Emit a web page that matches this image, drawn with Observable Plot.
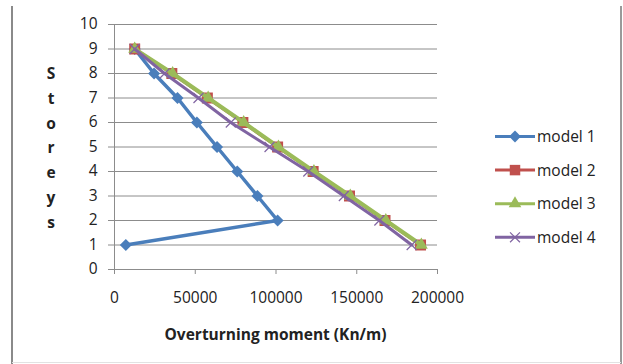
<!DOCTYPE html>
<html>
<head>
<meta charset="utf-8">
<script src="https://cdn.jsdelivr.net/npm/d3@7"></script>
<script src="https://cdn.jsdelivr.net/npm/@observablehq/plot@0.6"></script>
<style>
  html, body { margin: 0; padding: 0; background: #fff; }
  #wrap { position: relative; width: 623px; height: 364px; overflow: hidden; }
  #edgeL, #edgeR { position: absolute; top: 6px; bottom: 0; width: 2px; background: #8a8a8a; }
  #edgeL { left: 11px; }
  #edgeR { left: 620px; background: #9a9a9a; }
  #edgeB { position: absolute; left: 12px; width: 609px; top: 362px; height: 1px; background: #e2e2e2; }
</style>
</head>
<body>
<div id="wrap">
  <div id="edgeL"></div><div id="edgeR"></div><div id="edgeB"></div>
</div>
<script>
// Storey levels and overturning moments (kN·m/m) for each model
const storeys = [9, 8, 7, 6, 5, 4, 3, 2, 1];
const model1 = [12500, 24500, 39000, 51000, 63500, 76000, 88500, 101000, 7000];
const model2 = [12500, 35500, 57500, 79500, 101000, 123000, 145500, 167500, 189500];
const model3 = [12500, 36000, 58000, 80000, 101500, 123500, 146000, 168000, 190000];
const model4 = [12500, 31000, 52000, 72000, 96000, 120000, 142000, 164000, 184000];

const seriesNames = ["model 1", "model 2", "model 3", "model 4"];
const seriesValues = [model1, model2, model3, model4];
const colors = ["#4a7ebb", "#c0504d", "#9bbb59", "#8064a2"];
const symbols = ["diamond2", "square", "triangle", "times"];

const xTicks = [0, 50000, 100000, 150000, 200000];
const yTicks = [0, 1, 2, 3, 4, 5, 6, 7, 8, 9, 10];
const xTitle = "Overturning moment (Kn/m)";
const yTitle = "Storeys";

const font = "'Open Sans', sans-serif";
const fontSize = 15.5;
const textColor = "#222";

const rows = seriesNames.map((name, i) =>
  storeys.map((s, j) => ({series: name, storey: s, moment: seriesValues[i][j]})));

const lineWidths = [3.5, 3, 4, 3];
const dotRadii = [5.4, 6.2, 4.8, 4.6];

const seriesMarks = rows.flatMap((data, i) => [
  Plot.line(data, {x: "moment", y: "storey", stroke: colors[i], strokeWidth: lineWidths[i]}),
  Plot.dot(data, {
    x: "moment", y: "storey", symbol: () => symbols[i],
    r: dotRadii[i],
    fill: symbols[i] === "times" ? "none" : colors[i],
    stroke: colors[i],
    strokeWidth: symbols[i] === "times" ? 1.2 : 0
  })
]);

const chart = Plot.plot({
  width: 623,
  height: 364,
  marginLeft: 114,
  marginRight: 186,
  marginTop: 24,
  marginBottom: 95,
  style: {fontFamily: font, fontSize: fontSize + "px", color: textColor, background: "transparent"},
  x: {domain: [0, 200000], ticks: xTicks, tickFormat: d3.format("d"), label: null},
  y: {domain: [0, 10], ticks: yTicks, label: null},
  marks: [
    Plot.gridY(yTicks, {stroke: "#8c8c8c", strokeOpacity: 1, strokeWidth: 1}),
    Plot.ruleX([0], {stroke: "#8c8c8c"}),
    Plot.axisY({ticks: yTicks, tickSize: 6, tickPadding: 11, stroke: "#8c8c8c", fill: textColor}),
    Plot.axisX({ticks: xTicks, tickSize: 5, tickPadding: 17, stroke: "#8c8c8c", fill: textColor, tickFormat: d3.format("d")}),
    ...seriesMarks
  ]
});

document.getElementById("wrap").appendChild(chart);
chart.style.position = "absolute";
chart.style.left = "0";
chart.style.top = "0";

const svg = d3.select(chart);

// X axis title
svg.append("text")
  .attr("x", 275.5).attr("y", 340)
  .attr("text-anchor", "middle")
  .attr("font-family", font).attr("font-size", fontSize).attr("font-weight", "bold")
  .attr("fill", textColor)
  .text(xTitle);

// Y axis title: letters stacked vertically
const yt = svg.append("text")
  .attr("font-family", font).attr("font-size", fontSize).attr("font-weight", "bold")
  .attr("fill", textColor).attr("text-anchor", "middle");
Array.from(yTitle).forEach((ch, k) => {
  yt.append("tspan").attr("x", 51).attr("y", 79 + k * 24.8).text(ch);
});

// Legend
const symbolTypes = {diamond2: d3.symbolDiamond2, square: d3.symbolSquare, triangle: d3.symbolTriangle, times: d3.symbolTimes};
const legendSizes = [90, 110, 70, 66];
const legend = svg.append("g");
seriesNames.forEach((name, i) => {
  const cy = 136.5 + i * 33.6;
  const g = legend.append("g");
  g.append("line").attr("x1", 495).attr("x2", 535).attr("y1", cy).attr("y2", cy)
    .attr("stroke", colors[i]).attr("stroke-width", 3);
  g.append("path").attr("d", d3.symbol(symbolTypes[symbols[i]], legendSizes[i])())
    .attr("transform", `translate(515,${cy})`)
    .attr("fill", symbols[i] === "times" ? "none" : colors[i])
    .attr("stroke", symbols[i] === "times" ? colors[i] : "none")
    .attr("stroke-width", 1.2);
  g.append("text").attr("x", 537).attr("y", cy + 5.5)
    .attr("text-anchor", "start")
    .attr("font-family", font).attr("font-size", fontSize).attr("fill", textColor)
    .text(name);
});
</script>
</body>
</html>
